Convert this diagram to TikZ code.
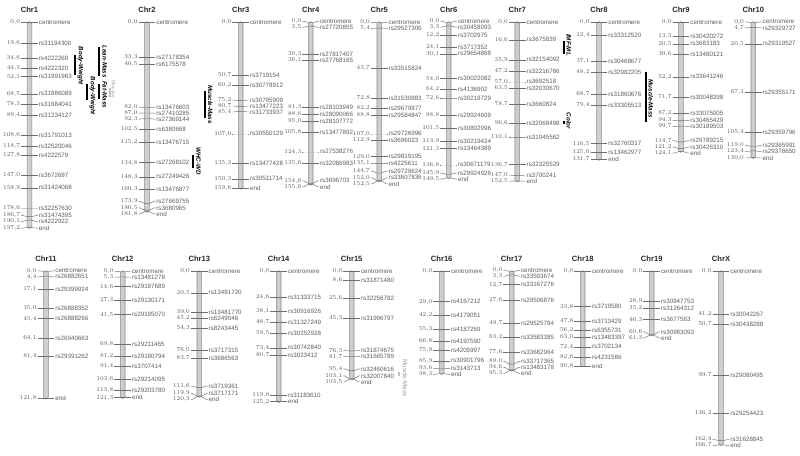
\documentclass[tikz,border=0pt]{standalone}
\usepackage{fontspec}
\setmainfont{Liberation Sans}
\definecolor{txtgray}{HTML}{5E5E5E}
\definecolor{titlegray}{HTML}{2A2A2A}
\definecolor{linegray}{HTML}{6E6E6E}
\definecolor{bargray}{HTML}{8A8A8A}
\definecolor{barfill}{HTML}{CFCFCF}
\definecolor{faintgray}{HTML}{9A9A9A}
\tikzset{
  chrtitle/.style={font=\fontsize{7.6}{9}\selectfont\bfseries, text=titlegray, inner sep=0},
  numtxt/.style={font=\fontsize{6.25}{7}\selectfont, text=txtgray, inner sep=0, anchor=east},
  labtxt/.style={font=\fontsize{6.25}{7}\selectfont, text=txtgray, inner sep=0, anchor=west},
  tickline/.style={draw=linegray, line width=0.45pt},
  chrbar/.style={draw=bargray, fill=barfill, line width=0.55pt, rounded corners=1.6pt},
  qtlbar/.style={draw=black, line width=1.7pt},
  qtllab/.style={font=\fontsize{6.2}{7}\selectfont\bfseries\itshape, rotate=-90, inner sep=0},
  faintbar/.style={draw=faintgray!60, line width=1.7pt},
  faintlab/.style={font=\fontsize{6.2}{7}\selectfont, text=faintgray, rotate=-90, inner sep=0},
}
\pgfkeys{/pgf/number format/.cd,fixed,fixed zerofill,precision=1,use comma}
\def\mksc{1.04}
\def\mkgap{6}
% #1 id, #2 bar x, #3 y of 0 cM, #4 title, #5 list cM/name
\newcommand\chrom[5]{%
  \node[chrtitle] (#1t) at (#2,#3-13) {#4};
  \gdef\mkprev{-1000}%
  \foreach \cm/\nm [count=\i] in {#5} {%
    \pgfmathsetmacro\mkay{#3+\cm*\mksc}%
    \pgfmathsetmacro\mklf{max(\mkay,\mkprev+\mkgap)}%
    \xdef\mkprev{\mklf}%
    \expandafter\xdef\csname mkay\i\endcsname{\mkay}%
    \expandafter\xdef\csname mklf\i\endcsname{\mklf}%
    \expandafter\xdef\csname mkcm\i\endcsname{\cm}%
    \expandafter\xdef\csname mknm\i\endcsname{\nm}%
    \xdef\mkN{\i}%
  }%
  \edef\mkend{\csname mkay\mkN\endcsname}%
  \draw[chrbar] (#2-2.3,#3-0.6) rectangle (#2+2.3,\mkend+0.6);
  \gdef\mknext{9000}%
  \foreach \j in {1,...,\mkN} {%
    \pgfmathtruncatemacro\i{\mkN+1-\j}%
    \edef\cay{\csname mkay\i\endcsname}%
    \edef\clf{\csname mklf\i\endcsname}%
    \pgfmathsetmacro\mklb{min(\cay,\mknext-\mkgap)}%
    \xdef\mknext{\mklb}%
    \pgfmathsetmacro\mkly{(\mklb+\clf)/2}%
    \draw[tickline] (#2-8.3,\mkly) -- (#2-7,\mkly) -- (#2-2.3,\cay) -- (#2+2.3,\cay) -- (#2+7,\mkly) -- (#2+8.3,\mkly);
    \node[numtxt] (#1n\i) at (#2-9.2,\mkly) {\pgfmathprintnumber{\csname mkcm\i\endcsname}};
    \node[labtxt] (#1l\i) at (#2+9.2,\mkly) {\csname mknm\i\endcsname};
  }%
}
\begin{document}
\begin{tikzpicture}[x=1pt,y=-1pt]
\useasboundingbox[fill=white] (0,0) rectangle (800,455);

\chrom{a}{29.5}{22.5}{Chr1}{0.0/centromere,19.6/rs31194300,34.6/rs4222269,44.3/rs4222320,52.1/rs31991963,68.5/rs31886089,78.3/rs31684041,89.4/rs31234127,108.6/rs31791013,118.7/rs32520046,127.8/rs4222579,147.0/rs3672697,158.9/rs31424068,178.6/rs32257630,186.7/rs31474395,190.1/rs4222922,197.2/end}
\chrom{b}{147}{22.5}{Chr2}{0.0/centromere,33.3/rs27178354,40.5/rs6175578,82.0/rs13476603,87.0/rs27410285,92.3/rs27369144,102.5/rs6380668,115.2/rs13476715,134.8/rs27268102,148.3/rs27249426,160.3/rs13476877,173.9/rs27669755,180.5/rs3680965,181.8/end}
\chrom{c}{240.7}{22.5}{Chr3}{0.0/centromere,50.7/rs3719154,60.2/rs30778912,75.2/rs30795909,80.7/rs13477223,85.4/rs31733937,107.0/rs30550129,135.3/rs13477428,150.3/rs30511714,159.6/end}
\chrom{d}{310.7}{22.5}{Chr4}{0.0/centromere,3.5/rs27720855,30.3/rs27817407,36.1/rs27768165,81.3/rs28103949,88.6/rs28090066,95.0/rs28107772,105.8/rs13477892,124.3/rs27538276,135.6/rs32086983,154.6/rs3696703,155.6/end}
\chrom{e}{379.3}{22.5}{Chr5}{0.0/centromere,5.4/rs29527306,43.7/rs33515824,72.8/rs31530883,82.2/rs29679877,88.8/rs29584847,107.0/rs29726996,112.9/rs3696023,129.0/rs29819195,135.1/rs4225611,144.7/rs29729624,152.0/rs33607836,152.5/end}
\chrom{f}{448.7}{22.5}{Chr6}{0.0/centromere,3.3/rs30458093,12.2/rs3702975,24.1/rs3717352,30.1/rs29654868,54.0/rs30022082,64.2/rs4136902,72.6/rs30219729,88.8/rs29924609,101.5/rs30802996,113.9/rs30219424,121.3/rs13464389,136.8/rs30671179,145.9/rs29924926,149.5/end}
\chrom{g}{517.3}{22.5}{Chr7}{0.0/centromere,16.6/rs3675839,35.9/rs32154092,47.2/rs32216766,57.0/rs3692518,63.5/rs32030670,78.7/rs3660824,96.6/rs32068498,110.1/rs31045562,136.7/rs32325529,147.0/rs3700241,152.5/end}
\chrom{h}{599}{22.5}{Chr8}{0.0/centromere,12.4/rs33312520,37.1/rs30468677,48.2/rs32982205,68.7/rs31860676,79.4/rs33305513,116.5/rs32760317,125.0/rs13462977,131.7/end}
\chrom{i}{681}{22.5}{Chr9}{0.0/centromere,13.3/rs30420272,20.5/rs3683183,30.6/rs13480121,52.2/rs33641246,71.7/rs30048398,87.2/rs33075005,94.3/rs30465429,99.7/rs30189503,114.7/rs29789215,121.2/rs30426310,124.1/end}
\chrom{j}{753.3}{22.5}{Chr10}{0.0/centromere,4.7/rs29329727,20.5/rs29319527,67.3/rs29355171,105.4/rs29359796,119.0/rs29365991,123.4/rs29378650,130.0/end}

\chrom{k}{46}{271.5}{Chr11}{0.0/centromere,4.4/rs26882651,17.1/rs29399924,35.0/rs26888352,45.4/rs26888266,64.1/rs26940663,81.4/rs29391262,121.8/end}
\chrom{l}{122.7}{271.5}{Chr12}{0.0/centromere,5.3/rs13481278,14.6/rs29187689,27.3/rs29130171,41.5/rs29195070,69.8/rs29211465,81.2/rs29180794,91.4/rs3707414,103.6/rs29214095,113.8/rs29203780,121.3/end}
\chrom{m}{199.3}{271.5}{Chr13}{0.0/centromere,20.5/rs13481720,39.0/rs13481770,45.2/rs6249046,54.3/rs8243445,76.0/rs3717315,83.7/rs3686563,111.6/rs3719361,119.9/rs3717171,120.3/end}
\chrom{n}{278.7}{271.5}{Chr14}{0.0/centromere,24.6/rs31333715,38.1/rs30916926,48.7/rs31327249,59.5/rs30252928,73.4/rs30742840,80.7/rs3023412,119.0/rs31183610,125.2/end}
\chrom{o}{351.7}{271.5}{Chr15}{0.0/centromere,8.6/rs31871480,25.6/rs32256782,45.3/rs31996797,76.3/rs31874675,81.7/rs31665789,95.4/rs32460616,103.1/rs32007840,103.5/end}
\chrom{p}{441.7}{271.5}{Chr16}{0.0/centromere,29.0/rs4167212,42.2/rs4179051,55.3/rs4187269,66.8/rs4197590,75.9/rs4205997,85.9/rs30901796,93.6/rs3143713,98.3/end}
\chrom{q}{511.7}{271.5}{Chr17}{0.0/centromere,3.3/rs33593674,12.7/rs33167276,27.6/rs29506876,49.7/rs29525784,63.2/rs33583385,77.6/rs33682964,89.0/rs33717365,94.6/rs13483178,95.3/end}
\chrom{r}{582.7}{271.5}{Chr18}{0.0/centromere,33.8/rs3719580,47.8/rs3713429,56.2/rs6355731,63.0/rs13483397,72.4/rs3702134,82.6/rs4231586,90.8/end}
\chrom{s}{651.7}{271.5}{Chr19}{0.0/centromere,28.9/rs30947753,35.2/rs31264312,46.3/rs3677563,60.6/rs30983093,61.3/end}
\chrom{x}{721}{271.5}{ChrX}{0.0/centromere,41.2/rs30042267,50.7/rs30438288,99.7/rs29080495,136.2/rs29254423,162.4/rs31628845,166.7/end}

% QTL bars and labels
\draw[qtlbar] (75.3,55) -- (75.3,75);
\node[qtllab] (q1) at (80.5,66) {Body-Weight};
\draw[qtlbar] (99.3,46.7) -- (99.3,76);
\node[qtllab] (q2) at (104.8,61.5) {Lean-Mass};
\draw[qtlbar] (87.3,84) -- (87.3,100);
\node[qtllab] (q3) at (92.6,96) {Body-Weight};
\draw[qtlbar] (99.3,84.3) -- (99.3,99);
\node[qtllab] (q4) at (104.8,94.5) {Fat-Mass};
\draw[faintbar] (110.3,88) -- (110.3,97);
\node[faintlab,font=\fontsize{4.8}{6}\selectfont] (q5) at (113.6,89) {Glucose};
\draw[qtlbar] (205,90.7) -- (205,118.3);
\node[qtllab] (q6) at (210.3,104.5) {Muscle-Mass};
\draw[qtlbar] (193.3,155) -- (193.3,168.3);
\node[qtllab] (q7) at (198.5,161) {WHC-WD};
\draw[qtlbar] (564,40.7) -- (564,54);
\node[qtllab] (q8) at (568.8,45) {IMF-ML};
\draw[qtlbar] (564,120.7) -- (564,124);
\node[qtllab] (q9) at (568.8,121) {Color};
\draw[qtlbar] (645.7,71.7) -- (645.7,121.7);
\node[qtllab] (q10) at (650.8,99) {Muscle-Mass};
\draw[faintbar] (399.3,372) -- (399.3,376);
\node[faintlab] (q11) at (405,378) {Muscle-Mass};
\end{tikzpicture}
\end{document}
